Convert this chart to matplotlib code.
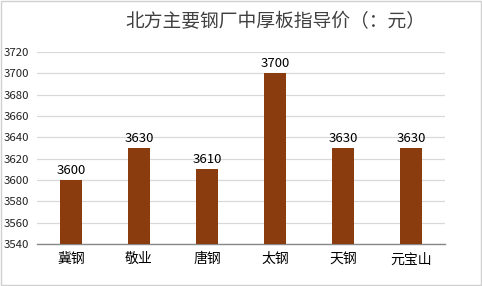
import matplotlib
matplotlib.use('Agg')
import matplotlib.pyplot as plt
from matplotlib.patches import Rectangle

plt.rcParams['font.family'] = ['Noto Sans CJK SC', 'DejaVu Sans']

# data
mills = ['冀钢', '敬业', '唐钢', '太钢', '天钢', '元宝山']
prices = [3600, 3630, 3610, 3700, 3630, 3630]
yticks = list(range(3540, 3721, 20))
title = '北方主要钢厂中厚板指导价（：元）'

fig = plt.figure(figsize=(4.82, 2.86), dpi=100)
ax = fig.add_axes([37 / 482, 1 - 244 / 286, 408 / 482, 192 / 286])

x = list(range(len(mills)))
ax.bar(x, prices, width=0.31, color='#8B3C0F', zorder=3)
for xi, p in zip(x, prices):
    ax.text(xi, p + 3, str(p), ha='center', va='bottom', fontsize=9.5, color='#000000')

ax.set_ylim(3540, 3720)
ax.set_xlim(-0.5, len(mills) - 0.5)
ax.set_yticks(yticks)
ax.set_yticklabels([str(t) for t in yticks], fontsize=8.2, color='#222222')
ax.set_xticks(x)
ax.set_xticklabels(mills, fontsize=10, color='#000000')
ax.tick_params(axis='both', length=0)
ax.tick_params(axis='y', pad=6)
ax.tick_params(axis='x', pad=6)
ax.grid(axis='y', color='#D9D9D9', linewidth=0.9, zorder=0)
for s in ['top', 'right', 'left']:
    ax.spines[s].set_visible(False)
ax.spines['bottom'].set_color('#888888')
ax.spines['bottom'].set_linewidth(1.0)

fig.text(275 / 482, 1 - 22 / 286, title, ha='center', va='center', fontsize=13.5, color='#404040')

fig.patches.append(Rectangle((0.002, 0.003), 0.995, 0.994, transform=fig.transFigure,
                             fill=False, edgecolor='#D0D0D0', linewidth=1))

fig.savefig('out.png', dpi=100)
